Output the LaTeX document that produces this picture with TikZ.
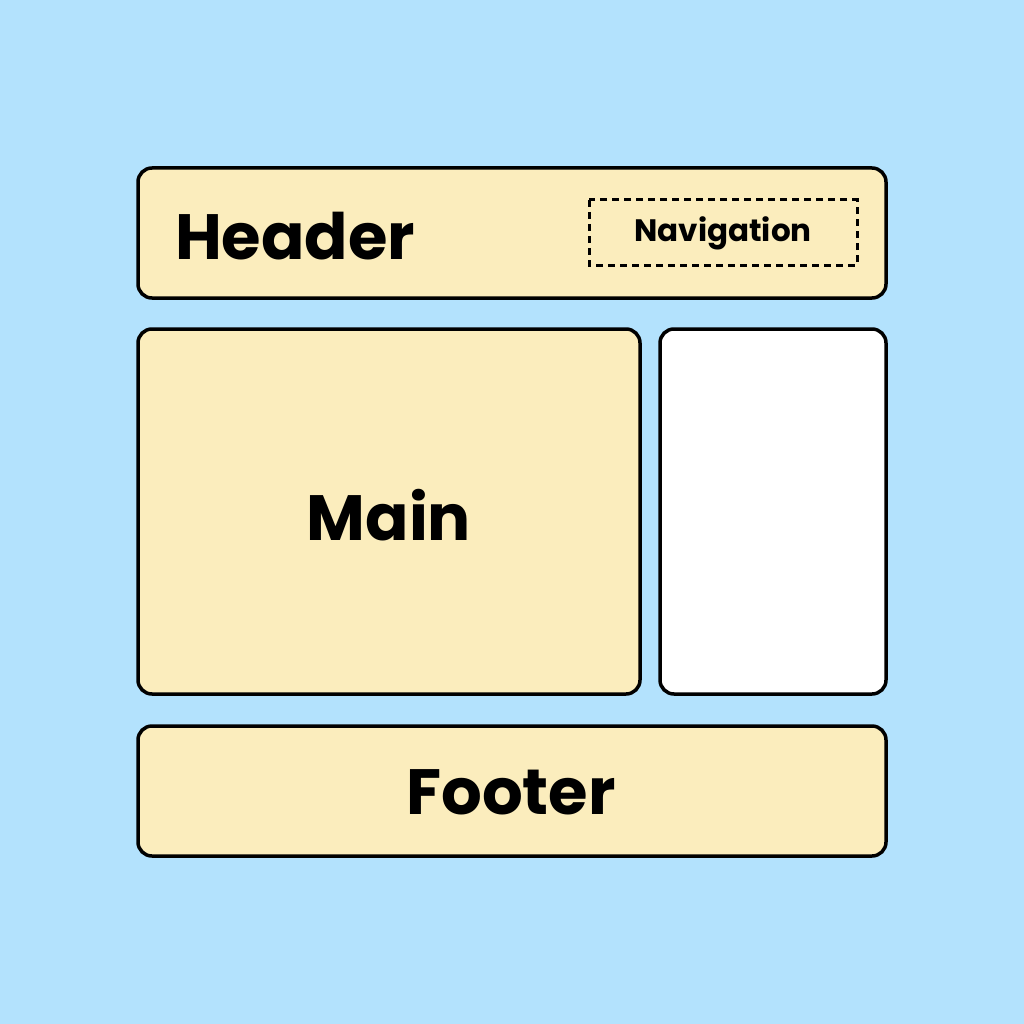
\documentclass[tikz,border=0pt]{standalone}
\usepackage{fontspec}
\setmainfont{Poppins}
\definecolor{bg}{HTML}{B3E2FD}
\definecolor{cream}{HTML}{FBEDBD}
\tikzset{box/.style={draw=black,line width=3.5pt,rounded corners=14pt},
lbl/.style={font=\bfseries\fontsize{64}{70}\selectfont}}
\begin{document}
\begin{tikzpicture}[x=1pt,y=-1pt]
\fill[bg] (0,0) rectangle (1024,1024);
\useasboundingbox (0,0) rectangle (1024,1024);
\draw[box,fill=cream] (138,168) rectangle (886,298);
\node[lbl,anchor=west,inner sep=0pt] (h) at (175,236) {Header};
\draw[line width=3pt,dash pattern=on 7pt off 5pt] (589,200) rectangle (857,265);
\node[font=\bfseries\fontsize{31}{36}\selectfont] (n) at (723,233) {Navigation};
\draw[box,fill=cream] (138,329) rectangle (640,694);
\node[lbl] (m) at (389,515) {Main};
\draw[box,fill=white] (660,329) rectangle (886,694);
\draw[box,fill=cream] (138,726) rectangle (886,856);
\node[lbl] (f) at (511,792) {Footer};
\end{tikzpicture}
\end{document}
